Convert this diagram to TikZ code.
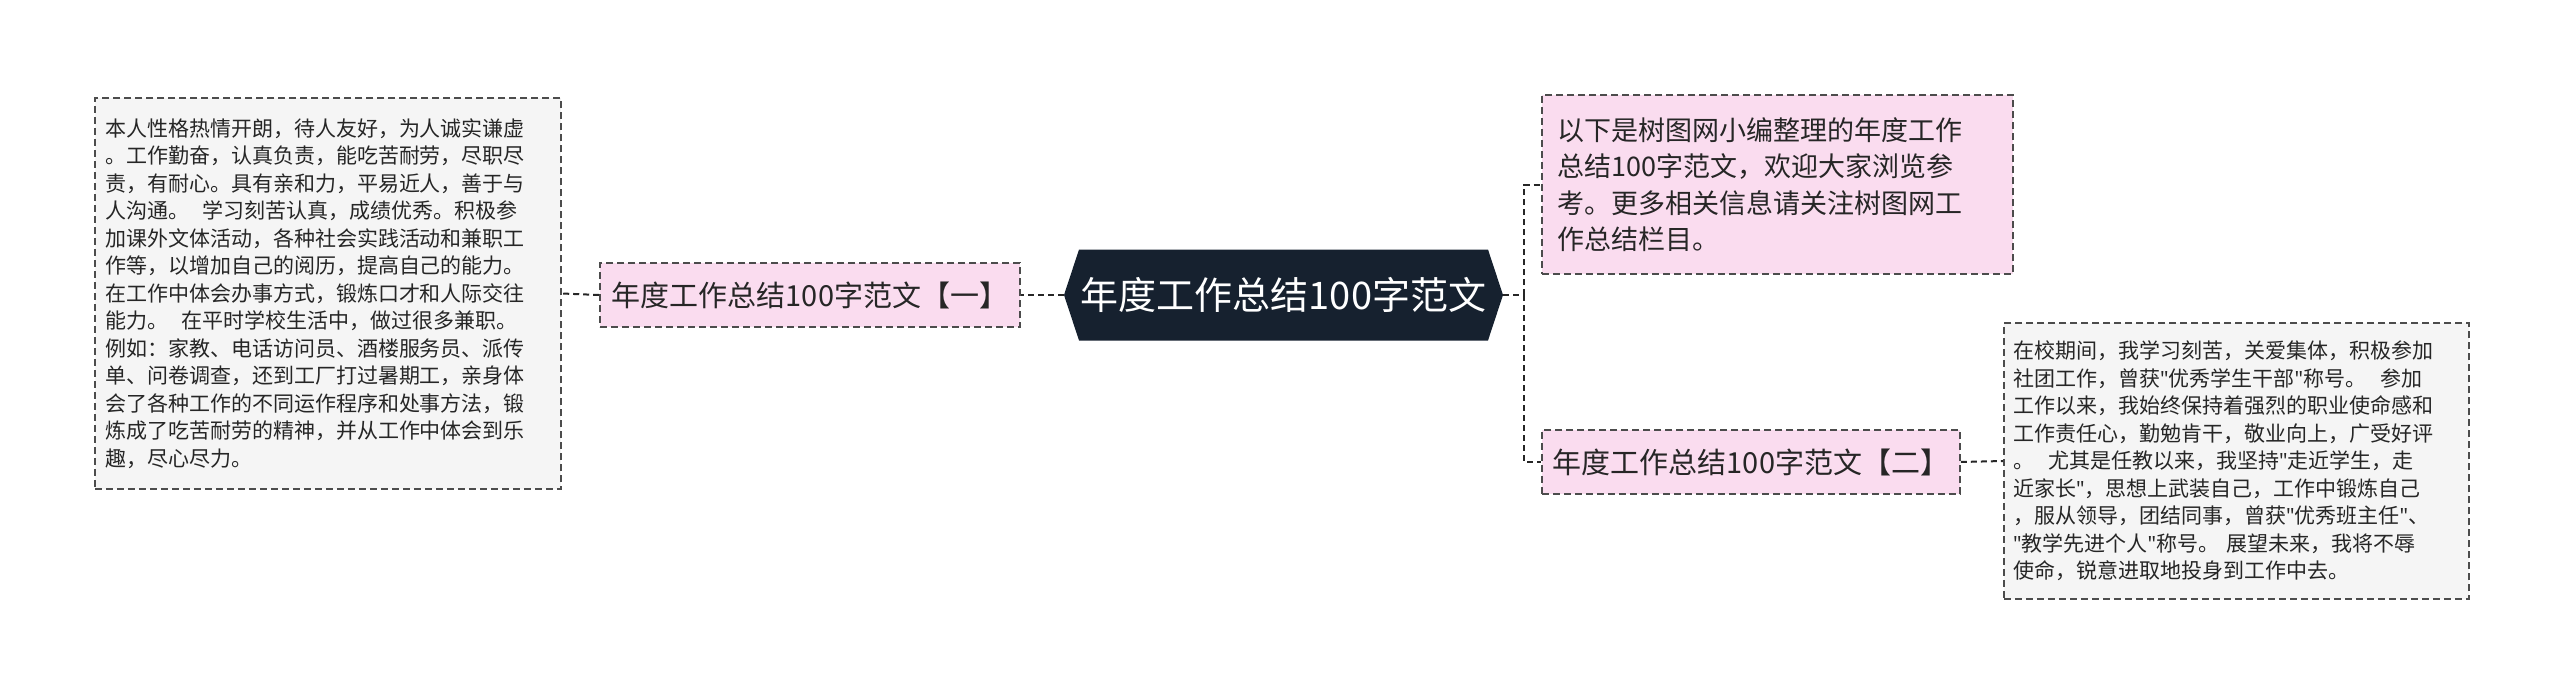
\documentclass[tikz,border=0pt]{standalone}
\usepackage{fontspec}
\setmainfont{Noto Sans CJK SC}
\newfontfamily\latn{Noto Sans}
\definecolor{dark}{HTML}{16212F}
\definecolor{pinkf}{HTML}{FADCEF}
\definecolor{greyf}{HTML}{F5F5F5}
\newcommand{\qq}{{\latn\char"22}}
\tikzset{
 conn/.style={draw=black!85,line width=2pt,dash pattern=on 6pt off 4pt},
 txtbox/.style={draw=black!70,line width=1.6pt,dash pattern=on 7pt off 4pt,fill=greyf,align=left,inner sep=10pt,font=\fontsize{21}{27.5}\selectfont,text=black!85},
 lbl/.style={draw=black!70,line width=1.6pt,dash pattern=on 7pt off 4pt,fill=pinkf,inner sep=0pt,font=\fontsize{29}{34}\selectfont,text=black!85}
}
\begin{document}
\begin{tikzpicture}[x=1pt,y=-1pt]
\useasboundingbox (0,0) rectangle (2560,693);
\fill[dark] (1064,295) -- (1079,249.5) -- (1488,249.5) -- (1503,295) -- (1488,340.5) -- (1079,340.5) -- cycle;
\node[text=white,font=\fontsize{38}{44}\selectfont,minimum width=439pt,minimum height=91pt,inner sep=0pt] (c) at (1283.5,295) {年度工作总结100字范文};
\node[lbl,minimum width=420pt,minimum height=64pt] (l) at (810,295) {年度工作总结100字范文【一】};
\node[lbl,minimum width=418pt,minimum height=64pt] (r) at (1751,462) {年度工作总结100字范文【二】};
\node[lbl,minimum width=471pt,minimum height=179pt,align=left,text width=440pt,inner sep=0pt,font=\fontsize{27}{36.5}\selectfont] (t) at (1777.5,184.5) {以下是树图网小编整理的年度工作\\总结100字范文，欢迎大家浏览参\\考。更多相关信息请关注树图网工\\作总结栏目。};
\node[txtbox,minimum width=466pt,minimum height=391pt,text width=446pt,inner sep=0pt] (lt) at (328,293.5) {本人性格热情开朗，待人友好，为人诚实谦虚\\。工作勤奋，认真负责，能吃苦耐劳，尽职尽\\责，有耐心。具有亲和力，平易近人，善于与\\人沟通。\ \ 学习刻苦认真，成绩优秀。积极参\\加课外文体活动，各种社会实践活动和兼职工\\作等，以增加自己的阅历，提高自己的能力。\\在工作中体会办事方式，锻炼口才和人际交往\\能力。\ \ 在平时学校生活中，做过很多兼职。\\例如：家教、电话访问员、酒楼服务员、派传\\单、问卷调查，还到工厂打过暑期工，亲身体\\会了各种工作的不同运作程序和处事方法，锻\\炼成了吃苦耐劳的精神，并从工作中体会到乐\\趣，尽心尽力。};
\node[txtbox,minimum width=465pt,minimum height=276pt,text width=447pt,inner sep=0pt] (rt) at (2236.5,461) {在校期间，我学习刻苦，关爱集体，积极参加\\社团工作，曾获\qq 优秀学生干部\qq 称号。\ \ 参加\\工作以来，我始终保持着强烈的职业使命感和\\工作责任心，勤勉肯干，敬业向上，广受好评\\。\ \ 尤其是任教以来，我坚持\qq 走近学生，走\\近家长\qq ，思想上武装自己，工作中锻炼自己\\，服从领导，团结同事，曾获\qq 优秀班主任\qq 、\\\qq 教学先进个人\qq 称号。\ 展望未来，我将不辱\\使命，锐意进取地投身到工作中去。};
\coordinate (j) at (1524,295);
\draw[conn] (c.west) -- (l.east);
\draw[conn] (l.west) -- (lt.east);
\draw[conn] (c.east) -- (j);
\draw[conn] (j) |- (t.west);
\draw[conn] (j) |- (r.west);
\draw[conn] (r.east) -- (rt.west);
\end{tikzpicture}
\end{document}
